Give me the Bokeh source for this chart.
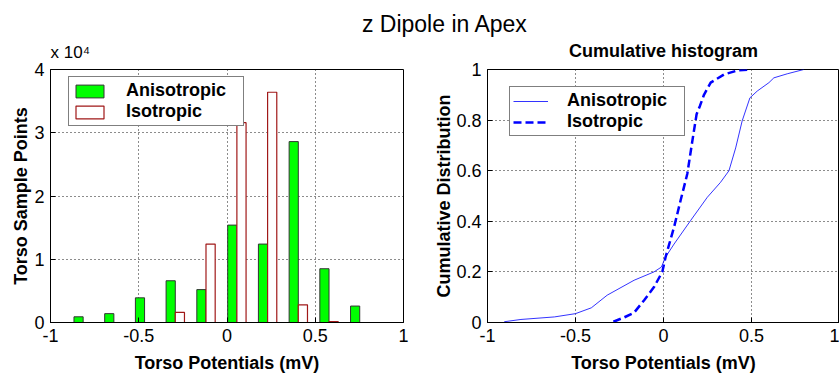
from bokeh.plotting import figure
from bokeh.layouts import column, row
from bokeh.models import Legend, LegendItem, Range1d, FixedTicker, ColumnDataSource, Title
from bokeh.transform import dodge
from bokeh.embed import file_html
from bokeh.resources import INLINE

# ---------------- data ----------------
main_title = "z Dipole in Apex"
cdf_title = "Cumulative histogram"
hist_scale_label = "x 10\u2074"
series_names = ["Anisotropic", "Isotropic"]

bin_centers = [-0.815, -0.641, -0.467, -0.293, -0.119, 0.056, 0.230, 0.404, 0.578, 0.752]
aniso_counts = [900, 1400, 3900, 6600, 5200, 15400, 12400, 28600, 8500, 2600]
iso_counts = [0, 0, 0, 1600, 12400, 31600, 36400, 2800, 150, 0]

aniso_cdf_x = [-0.905, -0.81, -0.62, -0.50, -0.41, -0.32, -0.167, -0.054, -0.012, 0.012,
               0.06, 0.154, 0.249, 0.324, 0.372, 0.41, 0.447, 0.491, 0.533, 0.599,
               0.627, 0.703, 0.797]
aniso_cdf_y = [0.003, 0.012, 0.022, 0.035, 0.058, 0.108, 0.167, 0.20, 0.219, 0.259,
               0.31, 0.403, 0.495, 0.554, 0.60, 0.69, 0.797, 0.888, 0.915, 0.948,
               0.967, 0.983, 1.0]
iso_cdf_x = [-0.285, -0.224, -0.167, -0.11, -0.054, -0.007, 0.012, 0.06, 0.097, 0.135,
             0.164, 0.188, 0.207, 0.23, 0.268, 0.343, 0.419, 0.495]
iso_cdf_y = [0.003, 0.02, 0.039, 0.088, 0.14, 0.20, 0.259, 0.377, 0.482, 0.587,
             0.718, 0.823, 0.856, 0.90, 0.948, 0.98, 0.996, 1.0]

x_ticks = [-1, -0.5, 0, 0.5, 1]
x_tick_labels = ["-1", "-0.5", "0", "0.5", "1"]
hist_y_ticks = [0, 10000, 20000, 30000, 40000]
hist_y_tick_labels = ["0", "1", "2", "3", "4"]
cdf_y_ticks = [0, 0.2, 0.4, 0.6, 0.8, 1.0]
cdf_y_tick_labels = ["0", "0.2", "0.4", "0.6", "0.8", "1"]

x_label = "Torso Potentials (mV)"
hist_y_label = "Torso Sample Points"
cdf_y_label = "Cumulative Distribution"

FONT = "Liberation Sans"


def style(p, yticks, ylabels, ylabel):
    p.xaxis.ticker = FixedTicker(ticks=x_ticks)
    p.xaxis.major_label_overrides = {t: l for t, l in zip(x_ticks, x_tick_labels)}
    p.yaxis.ticker = FixedTicker(ticks=yticks)
    p.yaxis.major_label_overrides = {t: l for t, l in zip(yticks, ylabels)}
    p.xaxis.axis_label = x_label
    p.yaxis.axis_label = ylabel
    for ax in (p.xaxis[0], p.yaxis[0]):
        ax.major_label_text_font = FONT
        ax.major_label_text_font_size = "18px"
        ax.major_label_text_color = "black"
        ax.axis_label_text_font = FONT
        ax.axis_label_text_font_size = "18px"
        ax.axis_label_text_font_style = "bold"
        ax.axis_label_text_color = "black"
        ax.major_tick_in = 5
        ax.major_tick_out = 0
        ax.minor_tick_line_color = None
        ax.axis_line_color = "black"
        ax.major_tick_line_color = "black"
        ax.major_label_standoff = 6
    p.xaxis.axis_label_standoff = 8
    p.yaxis.axis_label_standoff = 0
    p.grid.grid_line_color = "black"
    p.grid.grid_line_dash = "1 3"
    p.grid.grid_line_alpha = 0.9
    p.outline_line_color = "black"
    p.outline_line_alpha = 1.0
    p.background_fill_color = "white"
    p.border_fill_color = "white"


def make_legend(items, loc):
    return Legend(items=items, location=loc, margin=0, padding=3, spacing=-1,
                  glyph_width=35, glyph_height=16, label_standoff=19, label_width=114,
                  label_text_font=FONT, label_text_font_size="18px",
                  label_text_line_height=1.0,
                  label_text_font_style="bold", label_text_color="black",
                  border_line_color="black", border_line_width=1,
                  background_fill_color="white", background_fill_alpha=1.0)


def spacer(size):
    return Title(text=" ", text_font_size=size, standoff=0, text_color="white")


# ---------------- title strip ----------------
tfig = figure(width=839, height=38, toolbar_location=None, output_backend="svg",
              x_axis_type=None, y_axis_type=None,
              min_border_left=50, min_border_right=0, min_border_top=36, min_border_bottom=0,
              x_range=Range1d(0, 1), y_range=Range1d(0, 1), outline_line_color=None)
tfig.grid.visible = False
tfig.title.text = main_title
tfig.title.align = "center"
tfig.title.text_font = FONT
tfig.title.text_font_size = "23px"
tfig.title.text_font_style = "normal"
tfig.title.text_color = "black"
tfig.title.standoff = 0

# ---------------- histogram ----------------
src = ColumnDataSource(dict(x=bin_centers, a=aniso_counts, i=iso_counts))
p1 = figure(width=420, height=338, toolbar_location=None, output_backend="svg", title=None,
            x_range=Range1d(-1, 1), y_range=Range1d(0, 40000),
            min_border_left=50, min_border_right=17, min_border_top=30, min_border_bottom=54)
r_a = p1.vbar(x=dodge("x", -0.026), top="a", width=0.052, source=src,
              fill_color="#00ff00", line_color="#333333", line_width=1)
r_i = p1.vbar(x=dodge("x", 0.026), top="i", width=0.052, source=src,
              fill_color="white", line_color="#a01818", line_width=1.2)
style(p1, hist_y_ticks, hist_y_tick_labels, hist_y_label)
p1.add_layout(spacer("5px"), "above")
p1.add_layout(Title(text=hist_scale_label, align="left", text_font=FONT,
                    text_font_size="17px", text_font_style="normal", text_color="black",
                    standoff=0), "above")
p1.add_layout(make_legend([LegendItem(label=series_names[0], renderers=[r_a]),
                           LegendItem(label=series_names[1], renderers=[r_i])],
                          (18, 196)))

# ---------------- cumulative ----------------
p2 = figure(width=419, height=338, toolbar_location=None, output_backend="svg", title=None,
            x_range=Range1d(-1, 1), y_range=Range1d(0, 1),
            min_border_left=67, min_border_right=0, min_border_top=30, min_border_bottom=54)
r_ca = p2.line(aniso_cdf_x, aniso_cdf_y, line_color="#0000ff", line_width=1, line_alpha=0.8)
r_ci = p2.line(iso_cdf_x, iso_cdf_y, line_color="#0000ff", line_width=2.5, line_dash="8 4")
style(p2, cdf_y_ticks, cdf_y_tick_labels, cdf_y_label)
p2.yaxis.axis_label_standoff = -1
p2.add_layout(spacer("7px"), "above")
p2.add_layout(Title(text=cdf_title, align="center", text_font=FONT,
                    text_font_size="18px", text_font_style="bold", text_color="black",
                    standoff=0), "above")
p2.add_layout(make_legend([LegendItem(label=series_names[0], renderers=[r_ca]),
                           LegendItem(label=series_names[1], renderers=[r_ci])],
                          (22, 186)))

layout = column(tfig, row(p1, p2))
open("out.html", "w").write(file_html(layout, INLINE))
